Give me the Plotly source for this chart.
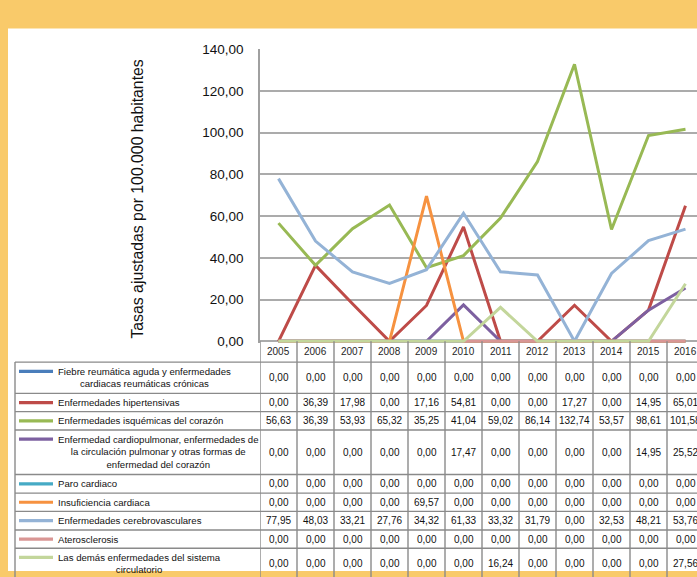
import plotly.graph_objects as go

# ---------------- data ----------------
years = [2005, 2006, 2007, 2008, 2009, 2010, 2011, 2012, 2013, 2014, 2015, 2016]

series_names = [
    "Fiebre reumática aguda y enfermedades<br>cardiacas reumáticas crónicas",
    "Enfermedades hipertensivas",
    "Enfermedades isquémicas del corazón",
    "Enfermedad cardiopulmonar, enfermedades de<br>la circulación pulmonar y otras formas de<br>enfermedad del corazón",
    "Paro cardiaco",
    "Insuficiencia cardiaca",
    "Enfermedades cerebrovasculares",
    "Aterosclerosis",
    "Las demás enfermedades del sistema<br>circulatorio",
]

fiebre = [0, 0, 0, 0, 0, 0, 0, 0, 0, 0, 0, 0]
hipertensivas = [0, 36.39, 17.98, 0, 17.16, 54.81, 0, 0, 17.27, 0, 14.95, 65.01]
isquemicas = [56.63, 36.39, 53.93, 65.32, 35.25, 41.04, 59.02, 86.14, 132.74, 53.57, 98.61, 101.58]
cardiopulmonar = [0, 0, 0, 0, 0, 17.47, 0, 0, 0, 0, 14.95, 25.52]
paro = [0, 0, 0, 0, 0, 0, 0, 0, 0, 0, 0, 0]
insuficiencia = [0, 0, 0, 0, 69.57, 0, 0, 0, 0, 0, 0, 0]
cerebrovasculares = [77.95, 48.03, 33.21, 27.76, 34.32, 61.33, 33.32, 31.79, 0, 32.53, 48.21, 53.76]
aterosclerosis = [0, 0, 0, 0, 0, 0, 0, 0, 0, 0, 0, 0]
demas = [0, 0, 0, 0, 0, 0, 16.24, 0, 0, 0, 0, 27.56]

series_values = [fiebre, hipertensivas, isquemicas, cardiopulmonar, paro,
                 insuficiencia, cerebrovasculares, aterosclerosis, demas]

y_ticks = [0, 20, 40, 60, 80, 100, 120, 140]
y_title = "Tasas ajustadas por 100.000 habitantes"

# ---------------- styles ----------------
colors = ["#4A7EBB", "#BE4B48", "#98B954", "#7D60A0", "#46AAC5",
          "#F69240", "#94B3D6", "#D99694", "#C3D69B"]

W, H = 697, 577
FONT = "Liberation Sans, Arial, sans-serif"

def px(x):
    return x / W

def py(y):
    return 1 - y / H

# plot area geometry (pixels)
plot_left, plot_top, zero_px = 260, 43, 342
unit = (zero_px - plot_top) / 140.0
y_lo = -0.75
plot_bottom = zero_px - y_lo * unit
col_w = 37.0
x_lo = years[0] - 0.5
x_hi = x_lo + (W - plot_left) / col_w

# table rows (pixel boundaries)
row_edges = [363.3, 395.3, 414.0, 432.7, 478.3, 497.3, 516.0, 535.0, 553.7, 585.3]
header_top = zero_px
table_left = 15
key_x0, key_x1 = 19, 53
text_x = 56

fig = go.Figure()

for name, vals, c in zip(series_names, series_values, colors):
    fig.add_trace(go.Scatter(
        x=years, y=vals, mode="lines", name=name.replace("<br>", " "),
        line=dict(color=c, width=3), showlegend=False,
    ))

shapes = []
annotations = []

# white panel on the orange background
shapes.append(dict(type="rect", xref="paper", yref="paper",
                   x0=px(8), x1=1.0, y0=0, y1=py(22),
                   fillcolor="white", line=dict(width=0), layer="below"))

line_col = "#8A8A8A"
for e in row_edges:
    shapes.append(dict(type="line", xref="paper", yref="paper",
                       x0=px(table_left), x1=1.0, y0=py(e), y1=py(e),
                       line=dict(color=line_col, width=1.4)))
shapes.append(dict(type="line", xref="paper", yref="paper",
                   x0=px(table_left), x1=px(table_left),
                   y0=py(row_edges[0]), y1=py(row_edges[-1]),
                   line=dict(color=line_col, width=1.4)))
for yr in years:
    b = yr - 0.5
    shapes.append(dict(type="line", xref="x", yref="paper",
                       x0=b, x1=b, y0=py(header_top), y1=py(row_edges[-1]),
                       line=dict(color=line_col, width=1.4)))

# header years
for yr in years:
    annotations.append(dict(xref="x", yref="paper", x=yr, y=py((header_top + row_edges[0]) / 2),
                            text=str(yr), showarrow=False, xanchor="center", yanchor="middle",
                            font=dict(family=FONT, size=10, color="#262626")))

# rows
for r, (name, vals, c) in enumerate(zip(series_names, series_values, colors)):
    top, bot = row_edges[r], row_edges[r + 1]
    mid = (top + bot) / 2
    nlines = name.count("<br>") + 1
    key_y = mid if nlines == 1 else top + 9.4
    shapes.append(dict(type="line", xref="paper", yref="paper",
                       x0=px(key_x0), x1=px(key_x1), y0=py(key_y), y1=py(key_y),
                       line=dict(color=c, width=3.2)))
    annotations.append(dict(xref="paper", yref="paper", x=px(text_x), y=py(mid),
                            text=name, showarrow=False, xanchor="left", yanchor="middle",
                            align="center",
                            font=dict(family=FONT, size=9.6, color="#111111")))
    for yr, v in zip(years, vals):
        annotations.append(dict(xref="x", yref="paper", x=yr, y=py(mid),
                                text=f"{v:.2f}".replace(".", ","), showarrow=False,
                                xanchor="center", yanchor="middle",
                                font=dict(family=FONT, size=10, color="#111111")))

# y-axis title
annotations.append(dict(xref="paper", yref="paper", x=px(138), y=py(197),
                        text=y_title, showarrow=False, textangle=-90,
                        xanchor="center", yanchor="middle",
                        font=dict(family=FONT, size=15.8, color="#111111")))

fig.update_layout(
    width=W, height=H,
    margin=dict(l=0, r=0, t=0, b=0),
    paper_bgcolor="#F9CA6A",
    plot_bgcolor="white",
    separators=",.",
    shapes=shapes,
    annotations=annotations,
    xaxis=dict(domain=[px(plot_left), 1.0], range=[x_lo, x_hi],
               showgrid=False, zeroline=False, showticklabels=False,
               showline=False, fixedrange=True),
    yaxis=dict(domain=[py(plot_bottom), py(plot_top)], range=[y_lo, 140.05],
               tickvals=y_ticks, tickformat=".2f",
               showgrid=True, gridcolor="#ABABAB", gridwidth=1.5,
               zeroline=False, showline=True, linecolor="#A0A0A0", linewidth=1.5,
               ticks="", ticklabelstandoff=12,
               tickfont=dict(family=FONT, size=13.5, color="#111111"),
               fixedrange=True),
)

fig.write_html(
    "out.html",
    config={"displayModeBar": False},
    post_script="document.body.style.margin='0';document.body.style.overflow='hidden';",
)
